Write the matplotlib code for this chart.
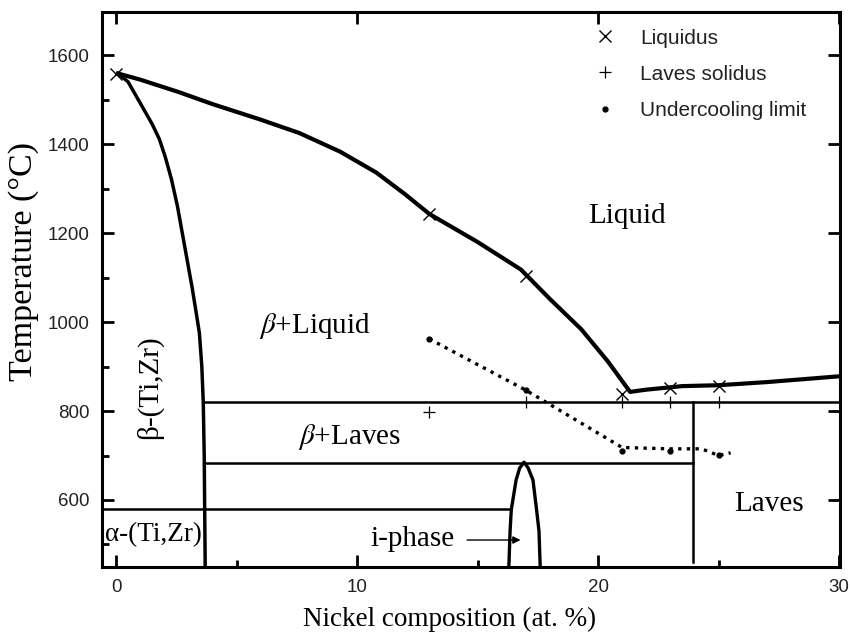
"""Ti-Zr-Ni pseudo-binary phase diagram (Nickel composition vs temperature)."""

import matplotlib
matplotlib.use("Agg")
import matplotlib.pyplot as plt
from matplotlib.lines import Line2D
from matplotlib.ticker import MultipleLocator

# liquidus curve
liq_x = [0.0, 1.0, 2.6, 4.0, 6.0, 7.6, 9.3, 10.8, 12.0, 13.0, 15.0, 16.8, 18.0,
         19.3, 20.4, 21.33, 22.0, 23.5, 25.0, 27.0, 30.0]
liq_t = [1560, 1545, 1517, 1490, 1455, 1425, 1383, 1336, 1287, 1243, 1180, 1118, 1052,
         984, 912, 843, 848, 856, 858, 865, 878]

# beta solvus (left boundary of beta+liquid / beta+Laves)
solv_x = [0.1, 0.5, 1.08, 1.5, 1.8, 2.05, 2.3, 2.55, 2.75, 2.95, 3.15, 3.3, 3.46,
          3.56, 3.62, 3.66, 3.7]
solv_t = [1558, 1540, 1485, 1445, 1411, 1370, 1321, 1260, 1200, 1140, 1080, 1030, 975,
          900, 820, 700, 450]

# i-phase dome
dome_x = [16.3, 16.35, 16.4, 16.6, 16.75, 16.93, 17.1, 17.3, 17.45, 17.55, 17.6]
dome_t = [450, 530, 578, 645, 672, 685, 672, 645, 578, 530, 450]

# invariant lines: (x start, x end, temperature)
iso_x0 = [3.62, 3.7, -0.6]
iso_x1 = [30.1, 23.94, 16.38]
iso_t = [820, 683, 580]
laves_x = 23.94
laves_t = [820, 461]

# measured points
liquidus_pts_x = [0, 13, 17, 21, 23, 25]
liquidus_pts_t = [1557, 1243, 1104, 838, 852, 857]
solidus_pts_x = [13, 17, 21, 23, 25]
solidus_pts_t = [798, 820, 820, 820, 820]
under_pts_x = [13, 17, 21, 23, 25]
under_pts_t = [962, 847, 710, 710, 702]
under_line_x = [13, 17, 21, 23, 24.3, 25, 25.5]
under_line_t = [962, 847, 718, 715, 715, 700, 706]

plt.rcParams["font.family"] = ["Liberation Serif", "DejaVu Serif"]
plt.rcParams["mathtext.fontset"] = "stix"
SANS = ["Liberation Sans", "DejaVu Sans"]

fig = plt.figure(figsize=(8.51, 6.34), dpi=100)
ax = fig.add_axes([0.1199, 0.1057, 0.8672, 0.8754])

ax.plot(liq_x, liq_t, color="black", lw=3.0, solid_capstyle="butt")
ax.plot(solv_x, solv_t, color="black", lw=2.5)
ax.plot(dome_x, dome_t, color="black", lw=2.4)
for x0, x1, t in zip(iso_x0, iso_x1, iso_t):
    ax.plot([x0, x1], [t, t], color="black", lw=1.8)
ax.plot([laves_x, laves_x], laves_t, color="black", lw=1.8)
ax.plot(under_line_x, under_line_t, color="black", lw=2.4, ls=(0, (1, 1.6)))

ax.plot(liquidus_pts_x, liquidus_pts_t, "x", color="black", ms=8, mew=1.0)
ax.plot(solidus_pts_x, solidus_pts_t, "+", color="black", ms=9, mew=0.9)
ax.plot(under_pts_x, under_pts_t, "o", color="black", ms=3.5)

# region labels
fs = 21
ax.text(21.2, 1239, "Liquid", fontsize=fs, ha="center", va="center")
ax.text(8.25, 990, r"$\beta$+Liquid", fontsize=fs, ha="center", va="center")
ax.text(9.7, 741, r"$\beta$+Laves", fontsize=fs, ha="center", va="center")
ax.text(27.1, 590, "Laves", fontsize=fs, ha="center", va="center")
ax.text(1.4, 853, "β-(Ti,Zr)", fontsize=fs, ha="center", va="center", rotation=90)
ax.text(-0.45, 522, "α-(Ti,Zr)", fontsize=19.5, ha="left", va="center")
ax.text(12.3, 512, "i-phase", fontsize=fs, ha="center", va="center")
ax.annotate("", xy=(16.9, 510), xytext=(14.45, 510),
            arrowprops=dict(arrowstyle="-|>", color="black", lw=1.0,
                            mutation_scale=11))

ax.set_xlim(-0.58, 30.04)
ax.set_ylim(449.4, 1697)
ax.xaxis.set_major_locator(MultipleLocator(10))
ax.xaxis.set_minor_locator(MultipleLocator(5))
ax.yaxis.set_major_locator(MultipleLocator(200))
ax.yaxis.set_minor_locator(MultipleLocator(100))
ax.tick_params(which="both", direction="in", width=2.0)
ax.tick_params(which="major", top=True, right=True, length=8.5, labelsize=13.5, pad=9)
ax.tick_params(which="minor", length=5)
for lab in ax.get_xticklabels() + ax.get_yticklabels():
    lab.set_family(SANS)
    lab.set_color("#222222")
for s in ax.spines.values():
    s.set_linewidth(2.2)

ax.set_xlabel("Nickel composition (at. %)", fontsize=19.5)
ax.xaxis.set_label_coords(0.471, -0.072)
ax.set_ylabel("Temperature (°C)", fontsize=24.5)
ax.yaxis.set_label_coords(-0.085, 0.55)

handles = [
    Line2D([], [], ls="none", marker="x", color="black", ms=8, mew=1.0),
    Line2D([], [], ls="none", marker="+", color="black", ms=9, mew=0.9),
    Line2D([], [], ls="none", marker="o", color="black", ms=3.5),
]
leg = ax.legend(handles, ["Liquidus", "Laves solidus", "Undercooling limit"],
                loc="upper left", bbox_to_anchor=(0.668, 0.97), frameon=False,
                handlelength=1.0, handletextpad=1.15, labelspacing=0.82,
                borderpad=0, borderaxespad=0,
                prop={"family": SANS, "size": 15})
for t in leg.get_texts():
    t.set_color("#222222")

fig.savefig("out.png", dpi=100)
